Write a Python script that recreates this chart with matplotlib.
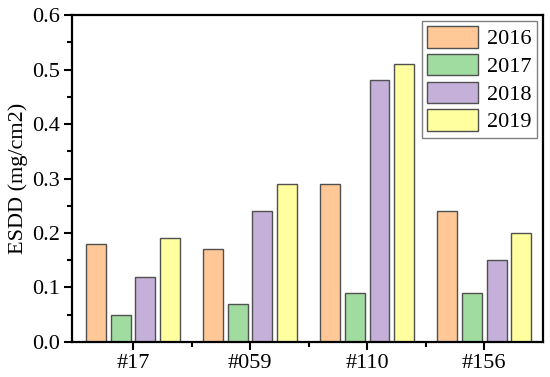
import matplotlib
matplotlib.use("Agg")
import matplotlib.pyplot as plt
from matplotlib import font_manager as fm
from matplotlib.ticker import MultipleLocator, FixedLocator, FormatStrFormatter
import numpy as np

sites = ["#17", "#059", "#110", "#156"]
years = ["2016", "2017", "2018", "2019"]
v2016 = [0.18, 0.17, 0.29, 0.24]
v2017 = [0.05, 0.07, 0.09, 0.09]
v2018 = [0.12, 0.24, 0.48, 0.15]
v2019 = [0.19, 0.29, 0.51, 0.20]
colors = ["#FFC896", "#A0DCA0", "#C4B0D8", "#FFFFA0"]

FAM = "Liberation Serif"
fp = fm.FontProperties(family=FAM, size=16)

fig = plt.figure(figsize=(5.5, 3.77), dpi=100)
ax = fig.add_axes([0.131, 0.093, 0.856, 0.867])

x = np.arange(1, len(sites) + 1)
w = 0.17
step = 0.21
series = [v2016, v2017, v2018, v2019]
for i, (vals, c, lab) in enumerate(zip(series, colors, years)):
    ax.bar(x + (i - 1.5) * step, vals, width=w, color=c, edgecolor="#505050",
           linewidth=1.0, label=lab, zorder=2)

ax.set_xlim(0.48, 4.5)
ax.set_ylim(0, 0.6)
ax.set_xticks(x)
ax.set_xticklabels(sites)
ax.xaxis.set_minor_locator(FixedLocator([1.5, 2.5, 3.5]))
ax.yaxis.set_major_locator(MultipleLocator(0.1))
ax.yaxis.set_minor_locator(MultipleLocator(0.05))
ax.yaxis.set_major_formatter(FormatStrFormatter("%.1f"))
ax.tick_params(which="major", direction="out", length=6, width=1.5, top=False, right=False, pad=3)
ax.tick_params(which="minor", direction="out", length=3.5, width=1.5, top=False, right=False)
for s in ax.spines.values():
    s.set_linewidth(1.6)
ax.set_ylabel("ESDD (mg/cm2)", labelpad=3, fontproperties=fp)

leg = ax.legend(loc="upper right", frameon=True, fancybox=False, edgecolor="#606060",
                handlelength=2.3, handleheight=1.1, labelspacing=0.2, handletextpad=0.4,
                borderpad=0.25, borderaxespad=0.25, prop=fp)
leg.get_frame().set_linewidth(1.0)

fig.canvas.draw()
for lab in ax.get_xticklabels() + ax.get_yticklabels():
    lab.set_fontproperties(fp)

fig.savefig("out.png", dpi=100)
